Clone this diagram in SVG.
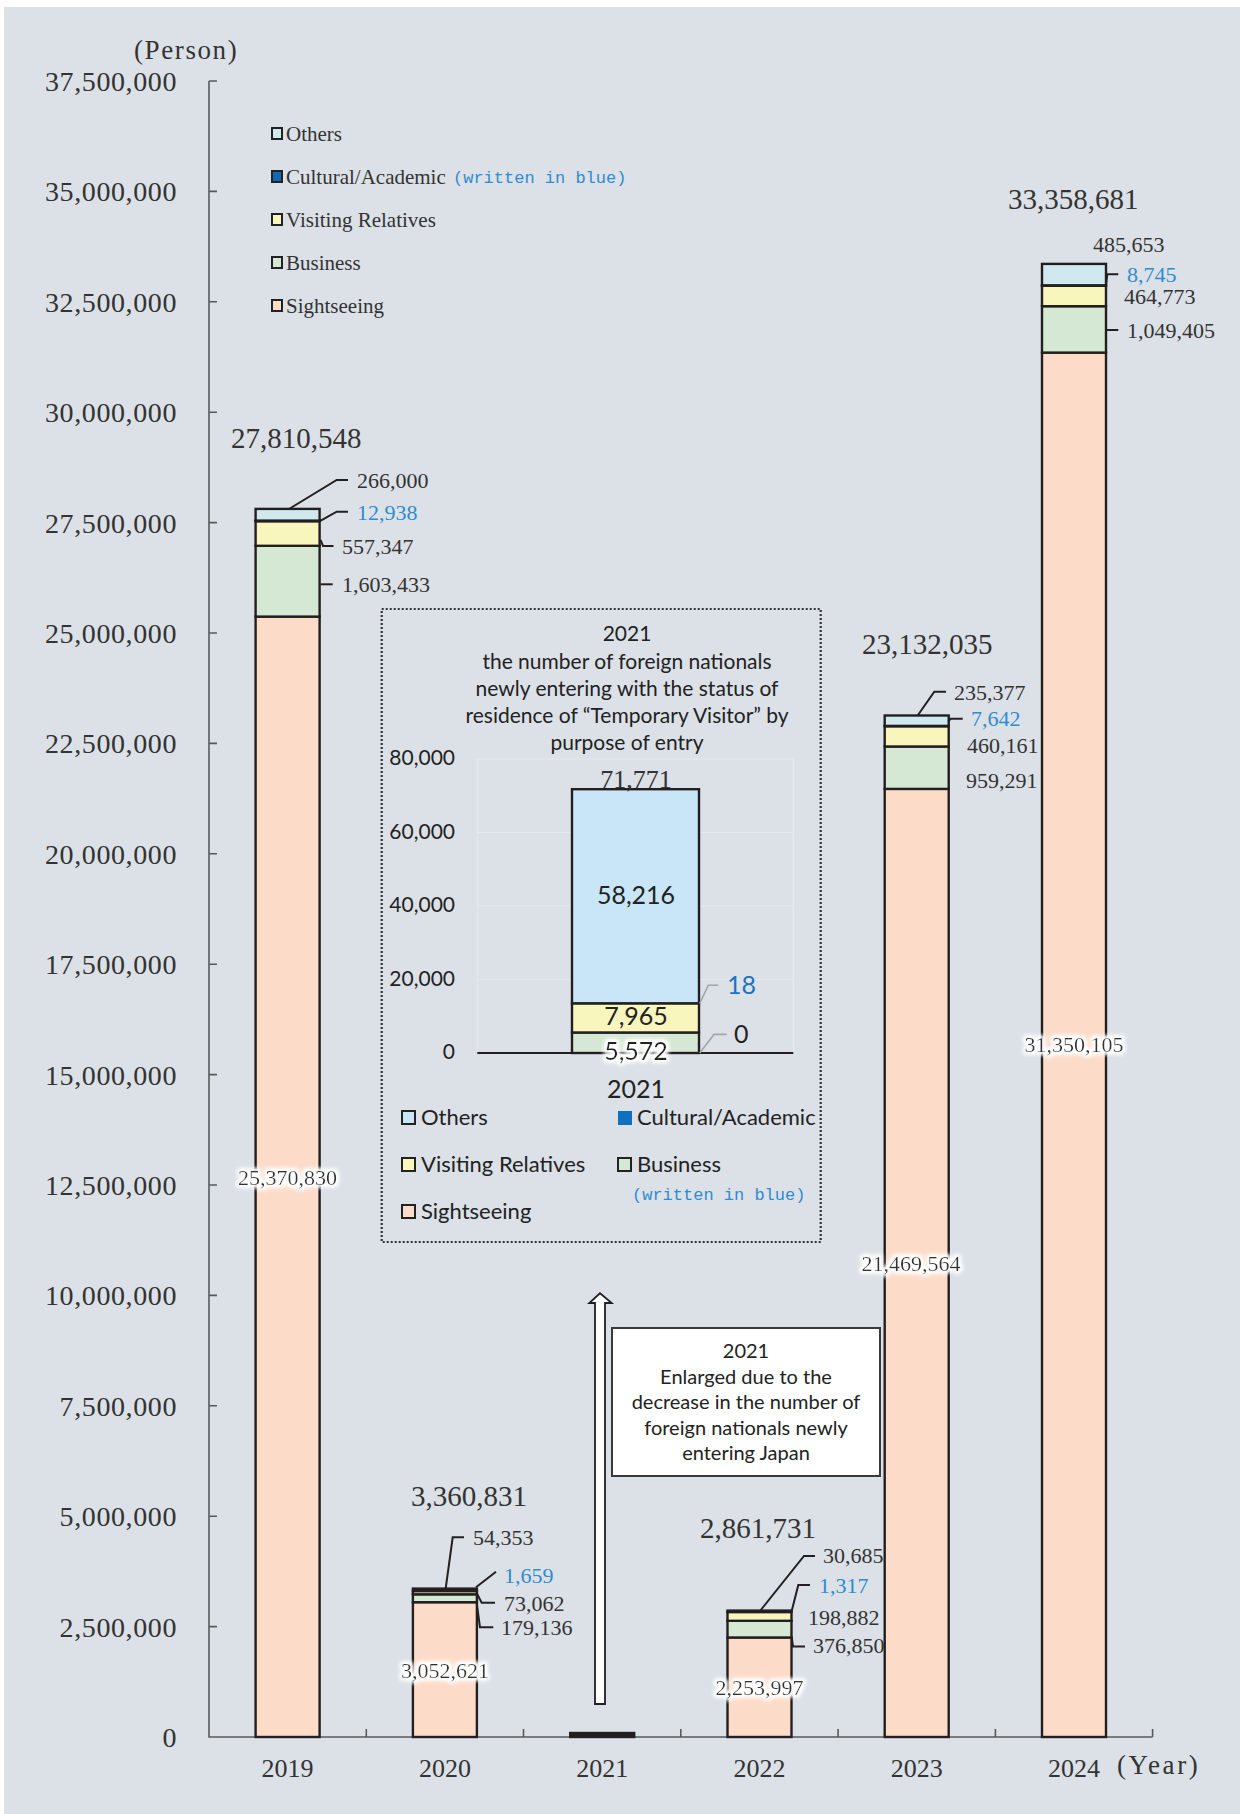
<svg xmlns="http://www.w3.org/2000/svg" width="1240" height="1814" viewBox="0 0 1240 1814">
<style>
.bg{fill:#dbe1e7}
.ax{stroke:#5a5a5a;stroke-width:1.6;fill:none}
.bar{stroke:#231f20;stroke-width:2.4}
.oth{fill:#cfe9ee}
.cul{fill:#0f6ab4}
.vr{fill:#f8f5bd}
.bus{fill:#d5e8d4}
.sig{fill:#fcdcc9}
.ioth{fill:#c8e6f7}
.dark{fill:#231f20}
.ylab{font-family:"Liberation Serif",serif;font-size:28px;fill:#333;text-anchor:end;letter-spacing:0.6px}
.tot{font-family:"Liberation Serif",serif;font-size:29px;fill:#333}
.dl{font-family:"Liberation Serif",serif;font-size:22px;fill:#333}
.blue{fill:#2f8ccf}
.yr{font-family:"Liberation Serif",serif;font-size:26px;fill:#333;text-anchor:middle}
.leg{font-family:"Liberation Serif",serif;font-size:21px;fill:#333}
.mono{font-family:"Liberation Mono",monospace;font-size:17px;fill:#2f8ccf}
.ld{stroke:#231f20;stroke-width:2;fill:none}
.sans{font-family:Lato,"Liberation Sans",sans-serif;fill:#222}
.ti{font-size:21px;text-anchor:middle}
.nt{font-size:20px;text-anchor:middle}
.inum{font-size:21px;text-anchor:end}
.ileg{font-size:22px}
.grid{stroke:#e6e9ec;stroke-width:1.2;fill:none}
.gld{stroke:#a5a5a5;stroke-width:1.6;fill:none}
.lsq{stroke:#222;stroke-width:2}
</style>
<defs>
<filter id="glow" x="-20%" y="-60%" width="140%" height="220%">
<feMorphology in="SourceAlpha" operator="dilate" radius="2" result="d"/>
<feGaussianBlur in="d" stdDeviation="2" result="b"/>
<feFlood flood-color="#ffffff" result="w"/>
<feComposite in="w" in2="b" operator="in" result="g"/>
<feMerge><feMergeNode in="g"/><feMergeNode in="g"/><feMergeNode in="SourceGraphic"/></feMerge>
</filter>
</defs>
<rect x="0" y="0" width="1240" height="1814" fill="#ffffff"/>
<rect class="bg" x="4" y="7" width="1236" height="1807"/>

<g id="axes">
<path class="ax" d="M209,81 V1737 H1152.6"/>
<path class="ax" d="M209,81 h8 M209,191.4 h8 M209,301.8 h8 M209,412.2 h8 M209,522.6 h8 M209,633 h8 M209,743.4 h8 M209,853.8 h8 M209,964.2 h8 M209,1074.6 h8 M209,1185 h8 M209,1295.4 h8 M209,1405.8 h8 M209,1516.2 h8 M209,1626.6 h8"/>
<path class="ax" d="M366.3,1737 v-8 M523.5,1737 v-8 M680.8,1737 v-8 M838.1,1737 v-8 M995.4,1737 v-8 M1152.6,1737 v-8"/>
<text class="tot" x="134" y="59" style="font-size:27px;letter-spacing:1.6px">(Person)</text>
<text class="ylab" x="177" y="91">37,500,000</text>
<text class="ylab" x="177" y="201.4">35,000,000</text>
<text class="ylab" x="177" y="311.8">32,500,000</text>
<text class="ylab" x="177" y="422.2">30,000,000</text>
<text class="ylab" x="177" y="532.6">27,500,000</text>
<text class="ylab" x="177" y="643">25,000,000</text>
<text class="ylab" x="177" y="753.4">22,500,000</text>
<text class="ylab" x="177" y="863.8">20,000,000</text>
<text class="ylab" x="177" y="974.2">17,500,000</text>
<text class="ylab" x="177" y="1084.6">15,000,000</text>
<text class="ylab" x="177" y="1195">12,500,000</text>
<text class="ylab" x="177" y="1305.4">10,000,000</text>
<text class="ylab" x="177" y="1415.8">7,500,000</text>
<text class="ylab" x="177" y="1526.2">5,000,000</text>
<text class="ylab" x="177" y="1636.6">2,500,000</text>
<text class="ylab" x="177" y="1747">0</text>
<text class="yr" x="287.6" y="1777">2019</text>
<text class="yr" x="444.9" y="1777">2020</text>
<text class="yr" x="602.2" y="1777">2021</text>
<text class="yr" x="759.5" y="1777">2022</text>
<text class="yr" x="916.7" y="1777">2023</text>
<text class="yr" x="1074" y="1777">2024</text>
<text class="tot" x="1117" y="1774" style="font-size:27px;letter-spacing:2.6px">(Year)</text>
</g>

<g id="legend">
<rect class="lsq oth" x="272" y="128" width="10" height="11"/>
<text class="leg" x="286" y="141">Others</text>
<rect class="lsq cul" x="272" y="171" width="10" height="11"/>
<text class="leg" x="286" y="184">Cultural/Academic</text>
<text class="mono" x="453" y="183">(written in blue)</text>
<rect class="lsq vr" x="272" y="214" width="10" height="11"/>
<text class="leg" x="286" y="227">Visiting Relatives</text>
<rect class="lsq bus" x="272" y="257" width="10" height="11"/>
<text class="leg" x="286" y="270">Business</text>
<rect class="lsq sig" x="272" y="300" width="10" height="11"/>
<text class="leg" x="286" y="313">Sightseeing</text>
</g>

<g id="bar2019">
<rect class="bar sig" x="255.6" y="616.6" width="64" height="1120.4"/>
<rect class="bar bus" x="255.6" y="545.8" width="64" height="70.8"/>
<rect class="bar vr" x="255.6" y="521.2" width="64" height="24.6"/>
<rect class="bar cul" x="255.6" y="520.6" width="64" height="0.6"/>
<rect class="bar oth" x="255.6" y="508.9" width="64" height="11.7"/>
<text class="tot" x="231" y="448">27,810,548</text>
<text class="dl" x="357" y="488">266,000</text>
<text class="dl blue" x="357" y="520">12,938</text>
<text class="dl" x="342" y="554">557,347</text>
<text class="dl" x="342" y="592">1,603,433</text>
<text class="dl" x="287.6" y="1185" text-anchor="middle" filter="url(#glow)">25,370,830</text>
</g>

<g id="bar2020">
<rect class="bar sig" x="412.9" y="1602.2" width="64" height="134.8"/>
<rect class="bar bus" x="412.9" y="1594.3" width="64" height="7.9"/>
<rect class="bar vr" x="412.9" y="1591.1" width="64" height="3.2"/>
<rect class="bar oth" x="412.9" y="1588.6" width="64" height="2.4"/>
<text class="tot" x="411" y="1506">3,360,831</text>
<text class="dl" x="473" y="1545">54,353</text>
<text class="dl blue" x="504" y="1583">1,659</text>
<text class="dl" x="504" y="1611">73,062</text>
<text class="dl" x="501" y="1635">179,136</text>
<text class="dl" x="444.9" y="1678" text-anchor="middle" filter="url(#glow)">3,052,621</text>
</g>

<g id="bar2021">
<rect class="bar dark" x="570.2" y="1733" width="64" height="4"/>
</g>

<g id="bar2022">
<rect class="bar sig" x="727.5" y="1637.5" width="64" height="99.5"/>
<rect class="bar bus" x="727.5" y="1620.8" width="64" height="16.7"/>
<rect class="bar vr" x="727.5" y="1612" width="64" height="8.8"/>
<rect class="bar oth" x="727.5" y="1610.6" width="64" height="1.4"/>
<text class="tot" x="700" y="1538">2,861,731</text>
<text class="dl" x="823" y="1563">30,685</text>
<text class="dl blue" x="819" y="1593">1,317</text>
<text class="dl" x="808" y="1625">198,882</text>
<text class="dl" x="813" y="1653">376,850</text>
<text class="dl" x="759.5" y="1695" text-anchor="middle" filter="url(#glow)">2,253,997</text>
</g>

<g id="bar2023">
<rect class="bar sig" x="884.7" y="788.9" width="64" height="948.1"/>
<rect class="bar bus" x="884.7" y="746.5" width="64" height="42.4"/>
<rect class="bar vr" x="884.7" y="726.2" width="64" height="20.3"/>
<rect class="bar cul" x="884.7" y="725.9" width="64" height="0.3"/>
<rect class="bar oth" x="884.7" y="715.5" width="64" height="10.4"/>
<text class="tot" x="862" y="654">23,132,035</text>
<text class="dl" x="954" y="700">235,377</text>
<text class="dl blue" x="971" y="726">7,642</text>
<text class="dl" x="967" y="753">460,161</text>
<text class="dl" x="966" y="788">959,291</text>
<text class="dl" x="911" y="1271" text-anchor="middle" filter="url(#glow)">21,469,564</text>
</g>

<g id="bar2024">
<rect class="bar sig" x="1042" y="352.6" width="64" height="1384.4"/>
<rect class="bar bus" x="1042" y="306.2" width="64" height="46.4"/>
<rect class="bar vr" x="1042" y="285.7" width="64" height="20.5"/>
<rect class="bar cul" x="1042" y="285.3" width="64" height="0.4"/>
<rect class="bar oth" x="1042" y="263.9" width="64" height="21.4"/>
<text class="tot" x="1008" y="209">33,358,681</text>
<text class="dl" x="1093" y="252">485,653</text>
<text class="dl blue" x="1127" y="282">8,745</text>
<text class="dl" x="1124" y="304">464,773</text>
<text class="dl" x="1127" y="338">1,049,405</text>
<text class="dl" x="1074" y="1052" text-anchor="middle" filter="url(#glow)">31,350,105</text>
</g>

<g id="connectors">
<path class="ld" d="M289,509 L336.7,480 H348"/>
<path class="ld" d="M320.7,520.7 L336.7,511.7 H348"/>
<path class="ld" d="M320.5,540 L323,546 H333.5"/>
<path class="ld" d="M320.7,584.3 H332.7"/>
<path class="ld" d="M445.7,1588.3 L452.7,1537.3 H464"/>
<path class="ld" d="M476,1587.3 L496,1571.7"/>
<path class="ld" d="M476.7,1593.3 L481.7,1602.7 H495"/>
<path class="ld" d="M476.7,1603 L480,1627.3 H493.3"/>
<path class="ld" d="M760,1611 L804,1556 H815"/>
<path class="ld" d="M791.7,1611 L798.3,1585 H810"/>
<path class="ld" d="M791.7,1637 L793,1646.5 H805"/>
<path class="ld" d="M917.3,716 L934.3,691.7 H946"/>
<path class="ld" d="M948.3,721.7 L950.7,718.7 H962.7"/>
<path class="ld" d="M1106,285 L1107.3,274.3 H1118.3"/>
<path class="ld" d="M1106,330 H1118.3"/>
</g>

<g id="arrow">
<path d="M595,1704 V1303 H589.3 L600,1293.3 L611.7,1303 H605 V1704 Z" fill="#ffffff" stroke="#231f20" stroke-width="1.8" stroke-linejoin="miter"/>
</g>

<g id="note">
<rect x="612" y="1328" width="268" height="148" fill="#ffffff" stroke="#3a3a3a" stroke-width="2"/>
<text class="sans nt" x="746" y="1358">2021</text>
<text class="sans nt" x="746" y="1384">Enlarged due to the</text>
<text class="sans nt" x="746" y="1409">decrease in the number of</text>
<text class="sans nt" x="746" y="1435">foreign nationals newly</text>
<text class="sans nt" x="746" y="1460">entering Japan</text>
</g>

<g id="inset">
<rect x="381.7" y="609" width="439" height="633" fill="none" stroke="#333" stroke-width="2.2" stroke-dasharray="2 2"/>
<text class="sans ti" x="627" y="641">2021</text>
<text class="sans ti" x="627" y="669">the number of foreign nationals</text>
<text class="sans ti" x="627" y="696">newly entering with the status of</text>
<text class="sans ti" x="627" y="723">residence of “Temporary Visitor” by</text>
<text class="sans ti" x="627" y="750">purpose of entry</text>
<path class="grid" d="M477.3,759 H793.3 M477.3,832.5 H793.3 M477.3,906 H793.3 M477.3,979.5 H793.3 M477.3,759 V1053 M793.3,759 V1053"/>
<text class="sans inum" x="455" y="765">80,000</text>
<text class="sans inum" x="455" y="839">60,000</text>
<text class="sans inum" x="455" y="912">40,000</text>
<text class="sans inum" x="455" y="986">20,000</text>
<text class="sans inum" x="455" y="1059">0</text>
<rect class="bar bus" x="572" y="1032.5" width="127" height="20.5"/>
<rect class="bar vr" x="572" y="1003.3" width="127" height="29.2"/>
<rect class="bar ioth" x="572" y="789.2" width="127" height="214.1"/>
<path d="M477.3,1053 H793.3" stroke="#231f20" stroke-width="2.2"/>
<text class="tot" x="636" y="788" text-anchor="middle" style="font-size:26px">71,771</text>
<text class="sans" x="636" y="904" text-anchor="middle" style="font-size:25px">58,216</text>
<text class="sans" x="636" y="1025" text-anchor="middle" style="font-size:25px">7,965</text>
<text class="sans" x="636" y="1060" text-anchor="middle" style="font-size:25px" filter="url(#glow)">5,572</text>
<path class="gld" d="M699.7,1003.7 L708.3,985.2 H718.3"/>
<path class="gld" d="M699.7,1052.9 L714,1034.4 H726.7"/>
<text class="sans" x="727" y="994" style="font-size:25px;fill:#1a74c4">18</text>
<text class="sans" x="734" y="1043" style="font-size:25px">0</text>
<text class="sans" x="636" y="1098" text-anchor="middle" style="font-size:25px">2021</text>
<rect class="lsq ioth" x="402" y="1111" width="13" height="13"/>
<text class="sans ileg" x="421" y="1125">Others</text>
<rect x="618" y="1111" width="14" height="14" fill="#1070c0"/>
<text class="sans ileg" x="637" y="1125">Cultural/Academic</text>
<rect class="lsq vr" x="402" y="1158" width="13" height="13"/>
<text class="sans ileg" x="421" y="1172">Visiting Relatives</text>
<rect class="lsq bus" x="618" y="1158" width="13" height="13"/>
<text class="sans ileg" x="637" y="1172">Business</text>
<text class="mono" x="632" y="1200">(written in blue)</text>
<rect class="lsq sig" x="402" y="1205" width="13" height="13"/>
<text class="sans ileg" x="421" y="1219">Sightseeing</text>
</g>
</svg>
